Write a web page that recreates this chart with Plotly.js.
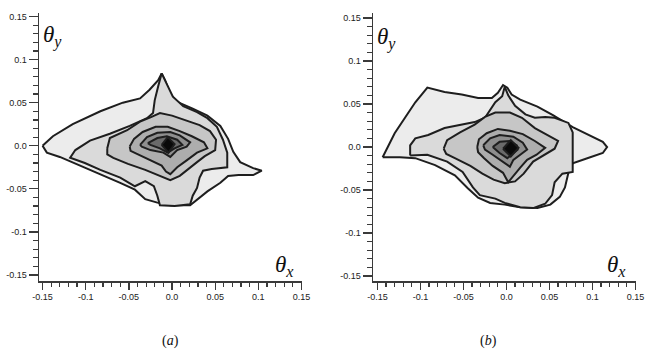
<!DOCTYPE html>
<html><head><meta charset="utf-8">
<script src="https://cdn.plot.ly/plotly-3.0.1.min.js"></script>
<style>html,body{margin:0;padding:0;background:#fff}#chart{width:647px;height:353px}</style>
</head><body><div id="chart"></div>
<script>
// Tick values / labels (both axes, both panels)
const tickVals = [-0.15, -0.1, -0.05, 0, 0.05, 0.1, 0.15];
const tickText = ["-0.15", "-0.1", "-0.05", "0.0", "0.05", "0.1", "0.15"];

// Panel (a): contour regions, outermost (level 1) to core (level 7)
const a1x = [-0.150,-0.138,-0.115,-0.083,-0.057,-0.037,-0.026,-0.016,-0.012,-0.008,-0.002,0.006,0.024,0.041,0.056,0.065,0.071,0.079,0.094,0.104,0.094,0.077,0.065,0.056,0.041,0.029,0.021,-0.002,-0.017,-0.031,-0.043,-0.060,-0.083,-0.110,-0.130,-0.145];
const a1y = [0.000,0.011,0.025,0.040,0.050,0.055,0.065,0.076,0.084,0.076,0.060,0.051,0.043,0.035,0.023,0.008,-0.007,-0.019,-0.026,-0.029,-0.034,-0.034,-0.035,-0.043,-0.053,-0.063,-0.069,-0.069,-0.066,-0.062,-0.051,-0.043,-0.033,-0.021,-0.013,-0.008];
const a2x = [-0.012,-0.007,0.001,0.013,0.029,0.041,0.052,0.059,0.064,0.064,0.046,0.036,0.032,0.029,0.024,0.021,0.003,-0.014,-0.017,-0.021,-0.031,-0.043,-0.060,-0.083,-0.101,-0.118,-0.112,-0.095,-0.072,-0.049,-0.029,-0.022,-0.020,-0.016];
const a2y = [0.084,0.073,0.057,0.046,0.039,0.032,0.022,0.007,-0.008,-0.025,-0.027,-0.029,-0.037,-0.049,-0.058,-0.068,-0.070,-0.069,-0.058,-0.047,-0.041,-0.047,-0.037,-0.028,-0.020,-0.014,-0.005,0.006,0.014,0.023,0.032,0.038,0.053,0.069];
const a3x = [-0.075,-0.072,-0.052,-0.037,-0.025,-0.014,0.000,0.015,0.032,0.044,0.051,0.050,0.038,0.029,0.019,0.009,-0.002,-0.014,-0.031,-0.051,-0.068,-0.075];
const a3y = [-0.003,0.009,0.018,0.028,0.033,0.038,0.035,0.030,0.024,0.017,0.007,-0.005,-0.012,-0.019,-0.027,-0.035,-0.040,-0.035,-0.028,-0.021,-0.014,-0.010];
const a4x = [-0.049,-0.044,-0.034,-0.019,-0.005,0.009,0.023,0.037,0.041,0.029,0.017,0.006,-0.002,-0.007,-0.012,-0.025,-0.039,-0.048];
const a4y = [-0.001,0.008,0.016,0.022,0.022,0.017,0.011,0.004,-0.003,-0.008,-0.017,-0.025,-0.033,-0.030,-0.023,-0.017,-0.011,-0.006];
const a5x = [-0.037,-0.029,-0.017,-0.002,0.009,0.021,0.017,0.006,-0.002,-0.010,-0.025,-0.035];
const a5y = [0.001,0.010,0.015,0.016,0.012,0.004,-0.001,-0.005,-0.013,-0.008,-0.005,-0.001];
const a6x = [-0.028,-0.017,-0.006,0.006,0.012,0.003,-0.005,-0.014,-0.025];
const a6y = [0.003,0.009,0.011,0.007,0.001,-0.003,-0.008,-0.003,0.001];
const a7x = [-0.012,-0.005,0.003,-0.004];
const a7y = [0.001,0.010,0.002,-0.008];

// Panel (b)
const b1x = [-0.144,-0.130,-0.118,-0.106,-0.092,-0.072,-0.052,-0.033,-0.017,-0.010,-0.004,0.001,0.006,0.016,0.036,0.054,0.077,0.101,0.112,0.117,0.112,0.094,0.077,0.072,0.068,0.062,0.051,0.036,0.016,-0.002,-0.019,-0.033,-0.045,-0.060,-0.083,-0.106,-0.124];
const b1y = [-0.012,0.016,0.034,0.052,0.069,0.064,0.061,0.057,0.057,0.063,0.072,0.069,0.061,0.055,0.047,0.037,0.023,0.012,0.006,0.000,-0.007,-0.013,-0.019,-0.030,-0.047,-0.058,-0.067,-0.071,-0.070,-0.067,-0.065,-0.059,-0.048,-0.033,-0.021,-0.013,-0.012];
const b2x = [-0.112,-0.112,-0.106,-0.091,-0.072,-0.052,-0.037,-0.025,-0.019,-0.013,-0.005,-0.002,0.002,0.010,0.022,0.033,0.045,0.056,0.072,0.077,0.077,0.077,0.065,0.056,0.053,0.045,0.031,0.016,-0.002,-0.013,-0.031,-0.039,-0.051,-0.069,-0.092];
const b2y = [-0.010,0.002,0.010,0.014,0.022,0.026,0.029,0.034,0.043,0.052,0.059,0.070,0.060,0.048,0.038,0.034,0.035,0.034,0.028,0.017,-0.003,-0.029,-0.031,-0.041,-0.056,-0.066,-0.071,-0.070,-0.065,-0.060,-0.056,-0.047,-0.029,-0.017,-0.009];
const b3x = [-0.073,-0.069,-0.054,-0.037,-0.025,-0.013,0.004,0.018,0.033,0.048,0.060,0.056,0.045,0.031,0.020,0.010,-0.002,-0.015,-0.028,-0.042,-0.060,-0.070];
const b3y = [-0.002,0.008,0.017,0.026,0.035,0.040,0.040,0.034,0.022,0.014,0.007,-0.002,-0.009,-0.017,-0.031,-0.040,-0.042,-0.038,-0.031,-0.022,-0.013,-0.008];
const b4x = [-0.034,-0.032,-0.023,-0.010,0.004,0.019,0.033,0.045,0.035,0.024,0.016,0.008,0.002,-0.004,-0.016,-0.026,-0.033];
const b4y = [0.000,0.009,0.016,0.021,0.019,0.015,0.007,-0.001,-0.009,-0.015,-0.024,-0.034,-0.041,-0.030,-0.022,-0.013,-0.006];
const b5x = [-0.027,-0.019,-0.008,0.008,0.019,0.024,0.016,0.008,0.004,-0.004,-0.016,-0.025];
const b5y = [0.002,0.010,0.014,0.012,0.005,-0.003,-0.009,-0.015,-0.023,-0.017,-0.009,-0.003];
const b6x = [-0.016,-0.008,0.004,0.012,0.013,0.006,0.001,-0.008,-0.013];
const b6y = [0.000,0.006,0.007,0.002,-0.003,-0.009,-0.013,-0.007,-0.003];
const b7x = [-0.004,0.005,0.014,0.005];
const b7y = [-0.002,0.008,-0.001,-0.011];

const fills = ['#ececec','#dadada','#c6c6c6','#adadad','#8e8e8e','#6a6a6a','#0a0a0a'];
const edge = '#1e1e1e';

function poly(xs, ys, fill, xa, ya) {
  return {
    type: 'scatter', mode: 'lines',
    x: xs.concat([xs[0]]), y: ys.concat([ys[0]]),
    fill: 'toself', fillcolor: fill,
    line: {color: edge, width: 2, shape: 'linear'},
    xaxis: xa, yaxis: ya, hoverinfo: 'skip', showlegend: false
  };
}

const A = [[a1x,a1y],[a2x,a2y],[a3x,a3y],[a4x,a4y],[a5x,a5y],[a6x,a6y],[a7x,a7y]];
const B = [[b1x,b1y],[b2x,b2y],[b3x,b3y],[b4x,b4y],[b5x,b5y],[b6x,b6y],[b7x,b7y]];
const traces = [];
A.forEach((p, i) => traces.push(poly(p[0], p[1], fills[i], 'x', 'y')));
B.forEach((p, i) => traces.push(poly(p[0], p[1], fills[i], 'x2', 'y2')));

const W = 647, H = 353;
const axisCol = '#3a3a3a';
const tickFont = {family: 'Liberation Sans, Arial, sans-serif', size: 9, color: '#222'};
function axis(domain, range, anchor, len, minorLen) {
  return {
    domain: domain, range: range, anchor: anchor,
    showline: true, linecolor: axisCol, linewidth: 1.5,
    showgrid: false, zeroline: false,
    tickmode: 'array', tickvals: tickVals, ticktext: tickText,
    ticks: 'outside', ticklen: len, tickwidth: 1.3, tickcolor: axisCol,
    tickfont: tickFont,
    minor: {ticks: 'outside', ticklen: minorLen, tickwidth: 1.2, tickcolor: axisCol,
            tickmode: 'linear', tick0: -0.15, dtick: 0.01}
  };
}

const yd = [(H - 281) / H, (H - 13) / H];

const serif = 'Liberation Serif, DejaVu Serif, serif';
function ann(text, px, py, size, xanchor) {
  return {text: text, xref: 'paper', yref: 'paper', x: px / W, y: 1 - py / H,
          xanchor: xanchor, yanchor: 'middle', showarrow: false,
          font: {family: serif, size: size, color: '#111'}};
}

const layout = {
  width: W, height: H,
  margin: {l: 0, r: 0, t: 0, b: 0},
  paper_bgcolor: '#fff', plot_bgcolor: '#fff',
  showlegend: false,
  xaxis: axis([39 / W, 302 / W], [-0.1541, 0.1506], 'y', 7, 4),
  yaxis: axis(yd, [-0.157, 0.1541], 'x', 9, 5),
  xaxis2: axis([373 / W, 636 / W], [-0.1552, 0.1506], 'y2', 7, 4),
  yaxis2: axis(yd, [-0.1558, 0.1558], 'x2', 9, 5),
  annotations: [
    ann('<i>θ</i><sub><i>y</i></sub>', 41, 37, 23, 'left'),
    ann('<i>θ</i><sub><i>x</i></sub>', 273, 266, 23, 'left'),
    ann('<i>θ</i><sub><i>y</i></sub>', 375, 38, 23, 'left'),
    ann('<i>θ</i><sub><i>x</i></sub>', 605, 266, 23, 'left'),
    ann('(<i>a</i>)', 170, 341, 14, 'center'),
    ann('(<i>b</i>)', 488, 341, 14, 'center')
  ]
};

Plotly.newPlot('chart', traces, layout, {staticPlot: true, displayModeBar: false});
</script>
</body></html>
